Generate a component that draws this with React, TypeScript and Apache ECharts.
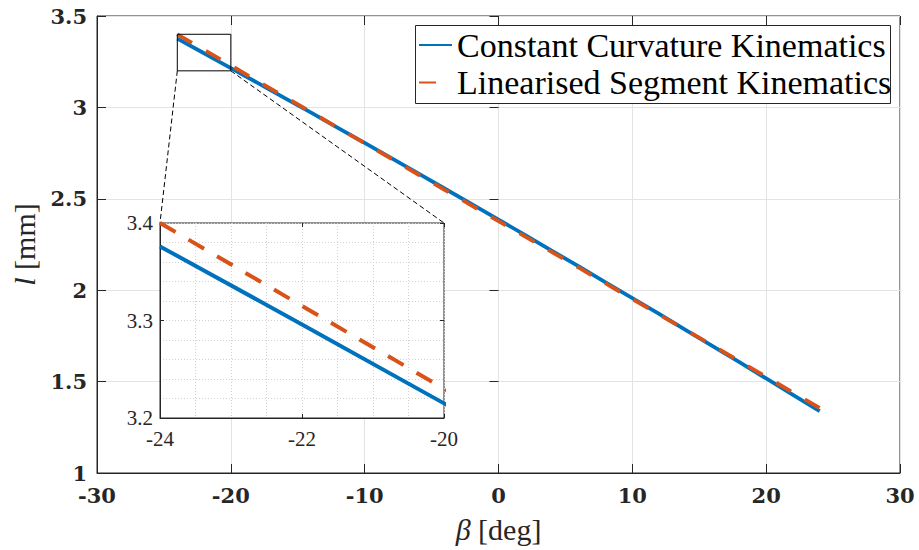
import React, { useEffect, useRef } from "react";
import * as echarts from "echarts";

// Bending angle β [deg]
const beta = [-24, -22, -20, -18, -16, -14, -12, -10, -8, -6, -4, -2, 0, 2, 4, 6, 8, 10, 12, 14, 16, 18, 20, 22, 24];
// Tendon length l [mm], constant curvature kinematics
const ccLength = [3.376, 3.296, 3.215, 3.134, 3.052, 2.971, 2.888, 2.806, 2.722, 2.639, 2.555, 2.471, 2.386, 2.301, 2.215, 2.130, 2.043, 1.957, 1.870, 1.782, 1.694, 1.606, 1.517, 1.428, 1.339];
// Tendon length l [mm], linearised segment kinematics
const lsLength = [3.400, 3.315, 3.230, 3.144, 3.059, 2.974, 2.889, 2.804, 2.719, 2.633, 2.548, 2.463, 2.378, 2.293, 2.208, 2.123, 2.037, 1.952, 1.867, 1.782, 1.697, 1.612, 1.526, 1.441, 1.356];

const seriesNames = ["Constant Curvature Kinematics", "Linearised Segment Kinematics"];
// [min, max, interval]
const mainX = [-30, 30, 10];
const mainY = [1, 3.5, 0.5];
const zoomX = [-24, -20, 2];
const zoomY = [3.2, 3.4, 0.1];

const BLUE = "#0072BD";
const ORANGE = "#D95319";
const AX = "#262626";
const SERIF = "'Liberation Serif', 'DejaVu Serif', serif";
const BOLD = "'DejaVu Serif', serif";

export default function App() {
  const ref = useRef<HTMLDivElement>(null);
  useEffect(() => {
    const chart = echarts.init(ref.current!, null, { renderer: "svg" });
    const pts = (ys: number[]) => beta.map((b, i) => [b, ys[i]]);
    const boxPts = [
      [zoomX[0], zoomY[0]],
      [zoomX[1], zoomY[0]],
      [zoomX[1], zoomY[1]],
      [zoomX[0], zoomY[1]],
      [zoomX[0], zoomY[0]],
    ];
    const mainLabel = { fontFamily: BOLD, fontWeight: "bold" as const, fontSize: 21, color: AX };
    const zoomLabel = { fontFamily: SERIF, fontSize: 21, color: AX };
    const dotted = { show: true, lineStyle: { color: "#d2d2d2", width: 1, type: [1, 2] } };

    const option: any = {
      animation: false,
      backgroundColor: "#fff",
      grid: [
        { left: 97, top: 16, width: 803, height: 457, show: true, borderColor: AX, borderWidth: 1, backgroundColor: "transparent", containLabel: false },
        { left: 160, top: 223, width: 284, height: 195, show: true, borderColor: AX, borderWidth: 1, backgroundColor: "#fff", z: 5, containLabel: false },
      ],
      xAxis: [
        {
          type: "value", gridIndex: 0, min: mainX[0], max: mainX[1], interval: mainX[2],
          axisLine: { show: true, onZero: false, lineStyle: { color: AX, width: 1 } },
          axisTick: { show: true, inside: true, length: 9, lineStyle: { color: AX } },
          axisLabel: { ...mainLabel, margin: 12, formatter: (v: number) => String(v) },
          splitLine: { show: true, lineStyle: { color: "#e3e3e3", width: 1 } },
          name: "{i|β} [deg]", nameLocation: "middle", nameGap: 41,
          nameTextStyle: { fontFamily: SERIF, fontSize: 30, color: AX, rich: { i: { fontFamily: SERIF, fontSize: 30, fontStyle: "italic", color: AX } } },
        },
        {
          type: "value", gridIndex: 1, min: zoomX[0], max: zoomX[1], interval: zoomX[2], z: 5,
          axisLine: { show: true, onZero: false, lineStyle: { color: AX, width: 1 } },
          axisTick: { show: true, inside: true, length: 4, lineStyle: { color: AX } },
          axisLabel: { ...zoomLabel, margin: 10, formatter: (v: number) => String(Math.round(v)) },
          splitLine: dotted,
          minorTick: { show: false, splitNumber: 4 },
          minorSplitLine: dotted,
        },
        {
          type: "value", gridIndex: 0, position: "top", min: mainX[0], max: mainX[1], interval: mainX[2],
          axisLine: { show: false }, axisLabel: { show: false }, splitLine: { show: false },
          axisTick: { show: true, inside: true, length: 9, lineStyle: { color: AX } },
        },
        {
          type: "value", gridIndex: 1, position: "top", min: zoomX[0], max: zoomX[1], interval: zoomX[2], z: 5,
          axisLine: { show: false }, axisLabel: { show: false }, splitLine: { show: false },
          axisTick: { show: true, inside: true, length: 4, lineStyle: { color: AX } },
        },
      ],
      yAxis: [
        {
          type: "value", gridIndex: 0, min: mainY[0], max: mainY[1], interval: mainY[2],
          axisLine: { show: true, onZero: false, lineStyle: { color: AX, width: 1 } },
          axisTick: { show: true, inside: true, length: 9, lineStyle: { color: AX } },
          axisLabel: { ...mainLabel, margin: 10, formatter: (v: number) => String(Math.round(v * 10) / 10) },
          splitLine: { show: true, lineStyle: { color: "#e3e3e3", width: 1 } },
          name: "{i|l} [mm]", nameLocation: "middle", nameGap: 54,
          nameTextStyle: { fontFamily: SERIF, fontSize: 30, color: AX, rich: { i: { fontFamily: SERIF, fontSize: 30, fontStyle: "italic", color: AX } } },
        },
        {
          type: "value", gridIndex: 1, min: zoomY[0], max: zoomY[1], interval: zoomY[2], z: 5,
          axisLine: { show: true, onZero: false, lineStyle: { color: AX, width: 1 } },
          axisTick: { show: true, inside: true, length: 4, lineStyle: { color: AX } },
          axisLabel: { ...zoomLabel, margin: 7, formatter: (v: number) => v.toFixed(1) },
          splitLine: dotted,
          minorTick: { show: false, splitNumber: 5 },
          minorSplitLine: dotted,
        },
        {
          type: "value", gridIndex: 0, position: "right", min: mainY[0], max: mainY[1], interval: mainY[2],
          axisLine: { show: false }, axisLabel: { show: false }, splitLine: { show: false },
          axisTick: { show: true, inside: true, length: 9, lineStyle: { color: AX } },
        },
        {
          type: "value", gridIndex: 1, position: "right", min: zoomY[0], max: zoomY[1], interval: zoomY[2], z: 5,
          axisLine: { show: false }, axisLabel: { show: false }, splitLine: { show: false },
          axisTick: { show: true, inside: true, length: 4, lineStyle: { color: AX } },
        },
      ],
      legend: {
        orient: "vertical", left: 418, top: 27, padding: 0, itemGap: 1.5,
        itemWidth: 33, itemHeight: 14, z: 6,
        itemStyle: { opacity: 0 },
        textStyle: { fontFamily: SERIF, fontSize: 34, lineHeight: 36, color: "#000" },
        data: seriesNames,
      },
      series: [
        {
          name: seriesNames[0], type: "line", xAxisIndex: 0, yAxisIndex: 0, data: pts(ccLength),
          symbol: "none", color: BLUE, lineStyle: { color: BLUE, width: 3.8 }, z: 3, silent: true,
        },
        {
          name: seriesNames[1], type: "line", xAxisIndex: 0, yAxisIndex: 0, data: pts(lsLength),
          symbol: "none", color: ORANGE, lineStyle: { color: ORANGE, width: 3.8, type: [17, 16], cap: "butt" }, z: 4, silent: true,
        },
        {
          name: "zoom box", type: "line", xAxisIndex: 0, yAxisIndex: 0, data: boxPts,
          symbol: "none", color: "#000", lineStyle: { color: "#000", width: 1 }, z: 4, silent: true,
        },
        {
          name: seriesNames[0], type: "line", xAxisIndex: 1, yAxisIndex: 1, data: pts(ccLength),
          symbol: "none", color: BLUE, lineStyle: { color: BLUE, width: 4 }, z: 6, silent: true, clip: true,
        },
        {
          name: seriesNames[1], type: "line", xAxisIndex: 1, yAxisIndex: 1, data: pts(lsLength),
          symbol: "none", color: ORANGE, lineStyle: { color: ORANGE, width: 4, type: [18, 15], cap: "butt" }, z: 7, silent: true, clip: true,
        },
      ],
      graphic: [
        {
          id: "legendBox", type: "rect", z: 3, silent: true,
          shape: { x: 415.5, y: 25.5, width: 475, height: 78 },
          style: { fill: "#fff", stroke: AX, lineWidth: 1 },
        },
      ],
    };
    chart.setOption(option);

    const a = chart.convertToPixel({ gridIndex: 0 }, [zoomX[0], zoomY[0]]) as number[];
    const b = chart.convertToPixel({ gridIndex: 0 }, [zoomX[1], zoomY[0]]) as number[];
    const c = chart.convertToPixel({ gridIndex: 1 }, [zoomX[0], zoomY[1]]) as number[];
    const d = chart.convertToPixel({ gridIndex: 1 }, [zoomX[1], zoomY[1]]) as number[];
    const conn = (id: string, p: number[], q: number[]) => ({
      id, type: "line", z: 4, silent: true,
      shape: { x1: p[0], y1: p[1], x2: q[0], y2: q[1] },
      style: { stroke: "#000", lineWidth: 1, lineDash: [5, 3] },
    });
    chart.setOption({ graphic: [conn("connL", a, c), conn("connR", b, d)] });

    return () => chart.dispose();
  }, []);
  return <div ref={ref} style={{ position: "fixed", left: 0, top: 0, width: 919, height: 550 }} />;
}
